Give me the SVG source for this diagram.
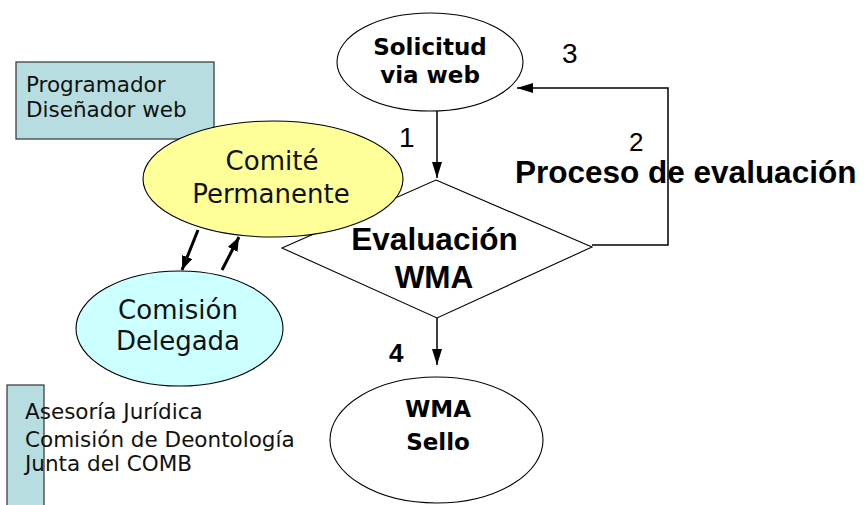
<svg xmlns="http://www.w3.org/2000/svg" width="868" height="505" viewBox="0 0 868 505">
<style>
.shape{stroke:#000;stroke-width:1.1}
.box{fill:#b7dde0;stroke:#333;stroke-width:1.2}
.conn{fill:none;stroke:#000;stroke-width:1.5}
.thick{fill:none;stroke:#000;stroke-width:3}
.lbl{font-family:"DejaVu Sans",Verdana,sans-serif;fill:#111}
.bold{font-family:"DejaVu Sans",Verdana,sans-serif;font-weight:bold;fill:#000}
.arial{font-family:"Liberation Sans",Arial,sans-serif;fill:#000}
</style>
<defs>
<marker id="ah" markerUnits="userSpaceOnUse" markerWidth="16" markerHeight="10" refX="16" refY="5" orient="auto">
<path d="M0,0 L16,5 L0,10 z" fill="#000"/>
</marker>
<marker id="ahT" markerUnits="userSpaceOnUse" markerWidth="14" markerHeight="11" refX="14" refY="5.5" orient="auto">
<path d="M0,0 L14,5.5 L0,11 z" fill="#000"/>
</marker>
</defs>
<rect width="868" height="505" fill="#fff"/>

<g id="programador">
<rect class="box" x="16" y="62" width="198" height="77"/>
<text class="lbl" x="26" y="92" font-size="21.5">Programador</text>
<text class="lbl" x="26" y="117" font-size="21.5">Diseñador web</text>
</g>

<g id="asesoria">
<rect class="box" x="7" y="385" width="37" height="125"/>
<text class="lbl" x="25" y="419" font-size="21.5">Asesoría Jurídica</text>
<text class="lbl" x="25" y="447" font-size="21.5">Comisión de Deontología</text>
<text class="lbl" x="25" y="471" font-size="21.5">Junta del COMB</text>
</g>

<g id="evaluacion">
<polygon class="shape" fill="#fff" points="436,180 592,247 437,318 282,248"/>
<text class="arial" x="434.5" y="250" font-size="31.5" font-weight="bold" text-anchor="middle">Evaluación</text>
<text class="arial" x="434" y="288" font-size="31.5" font-weight="bold" text-anchor="middle">WMA</text>
</g>

<g id="comite">
<ellipse class="shape" fill="#ffff99" cx="273" cy="179" rx="130" ry="58"/>
<text class="lbl" x="272" y="170" font-size="26" text-anchor="middle">Comité</text>
<text class="lbl" x="271" y="203" font-size="26" text-anchor="middle">Permanente</text>
</g>

<g id="comision">
<ellipse class="shape" fill="#ccffff" cx="179.5" cy="328.5" rx="103.5" ry="57.5"/>
<text class="lbl" x="178" y="319" font-size="26" text-anchor="middle">Comisión</text>
<text class="lbl" x="178" y="350" font-size="26" text-anchor="middle">Delegada</text>
</g>

<g id="solicitud">
<ellipse class="shape" fill="#fff" cx="430" cy="62" rx="93" ry="49"/>
<text class="bold" x="430" y="55" font-size="23" text-anchor="middle">Solicitud</text>
<text class="bold" x="430" y="83" font-size="23" text-anchor="middle">via web</text>
</g>

<g id="sello">
<ellipse class="shape" fill="#fff" cx="436.5" cy="440" rx="106.5" ry="63"/>
<text class="bold" x="438" y="417" font-size="23" text-anchor="middle">WMA</text>
<text class="bold" x="438" y="450" font-size="23" text-anchor="middle">Sello</text>
</g>

<g id="connectors">
<line class="conn" x1="437" y1="111" x2="437" y2="178" marker-end="url(#ah)"/>
<polyline class="conn" points="592,245 668,245 668,88 517,88" marker-end="url(#ah)"/>
<line class="conn" x1="437" y1="318" x2="437" y2="365" marker-end="url(#ah)"/>
<line class="thick" x1="198" y1="230" x2="182" y2="270" marker-end="url(#ahT)"/>
<line class="thick" x1="222" y1="270" x2="239" y2="237" marker-end="url(#ahT)"/>
</g>

<g id="labels">
<text class="arial" x="399" y="147" font-size="28">1</text>
<text class="arial" x="629" y="151" font-size="26">2</text>
<text class="arial" x="562" y="63" font-size="28">3</text>
<text class="arial" x="389" y="362" font-size="26" font-weight="bold">4</text>
<text class="arial" x="515" y="183" font-size="31.5" font-weight="bold">Proceso de evaluación</text>
</g>
</svg>
